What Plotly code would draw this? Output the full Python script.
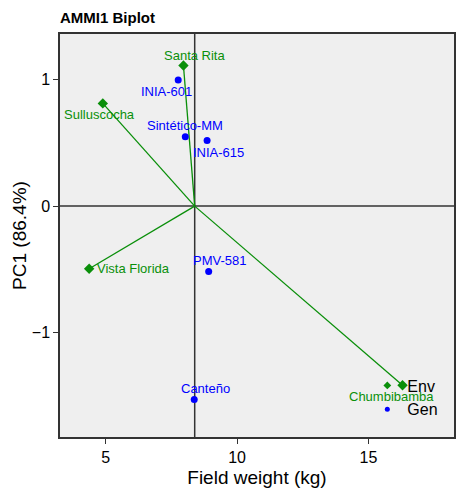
import plotly.graph_objects as go

# Environments: mean field weight (kg) and PC1 score
env_names = ["Santa Rita", "Sulluscocha", "Vista Florida", "Chumbibamba"]
env_yield = [7.96, 4.89, 4.37, 16.30]
env_pc1 = [1.113, 0.813, -0.496, -1.417]

# Genotypes: mean field weight (kg) and PC1 score
gen_names = ["INIA-601", "Sintético-MM", "INIA-615", "PMV-581", "Canteño"]
gen_yield = [7.76, 8.03, 8.86, 8.92, 8.37]
gen_pc1 = [0.998, 0.549, 0.520, -0.517, -1.530]

x_ticks = [5, 10, 15]
y_ticks = [-1, 0, 1]

grand_mean = sum(gen_yield) / len(gen_yield)

GREEN = "#0A8F0A"
BLUE = "#0000FF"
FONT = "Liberation Sans, Arial, sans-serif"

# label offsets in pixels (dx, dy) for each point
env_shift = [(11, -10), (-3, 11), (44, 0), (-11, 11)]
gen_shift = [(-12, 11), (0, -11), (11, 12), (11, -11), (11, -11)]

fig = go.Figure()

# vectors from the origin (grand mean, 0) to each environment
for ex, ey in zip(env_yield, env_pc1):
    fig.add_trace(go.Scatter(
        x=[grand_mean, ex], y=[0, ey], mode="lines",
        line=dict(color=GREEN, width=1.3), showlegend=False, hoverinfo="skip"))

fig.add_trace(go.Scatter(
    x=env_yield, y=env_pc1, mode="markers", name="Env", showlegend=False,
    marker=dict(symbol="diamond", size=8, color=GREEN)))
fig.add_trace(go.Scatter(
    x=gen_yield, y=gen_pc1, mode="markers", name="Gen", showlegend=False,
    marker=dict(symbol="circle", size=7, color=BLUE)))

# legend entries with smaller symbols
fig.add_trace(go.Scatter(
    x=[None], y=[None], mode="markers", name="Env",
    marker=dict(symbol="diamond", size=6, color=GREEN)))
fig.add_trace(go.Scatter(
    x=[None], y=[None], mode="markers", name="Gen",
    marker=dict(symbol="circle", size=5, color=BLUE)))

for name, x, y, (dx, dy) in zip(env_names, env_yield, env_pc1, env_shift):
    fig.add_annotation(x=x, y=y, text=name, showarrow=False, xshift=dx, yshift=-dy,
                       font=dict(color=GREEN, size=13, family=FONT))
for name, x, y, (dx, dy) in zip(gen_names, gen_yield, gen_pc1, gen_shift):
    fig.add_annotation(x=x, y=y, text=name, showarrow=False, xshift=dx, yshift=-dy,
                       font=dict(color=BLUE, size=13, family=FONT))

# reference lines through the origin
fig.add_shape(type="line", xref="paper", x0=0, x1=1, yref="y", y0=0, y1=0,
              line=dict(color="#333333", width=1.5), layer="below")
fig.add_shape(type="line", xref="x", x0=grand_mean, x1=grand_mean, yref="paper", y0=0, y1=1,
              line=dict(color="#333333", width=1.5), layer="below")

fig.update_layout(
    width=457, height=488,
    margin=dict(l=60, r=1, t=34, b=49),
    paper_bgcolor="white", plot_bgcolor="#EFEFEF",
    font=dict(family=FONT, size=16, color="black"),
    title=dict(text="<b>AMMI1 Biplot</b>", x=0, xref="paper", xanchor="left",
               y=1, yref="container", yanchor="top", pad=dict(t=12),
               font=dict(size=15, family=FONT, color="black")),
    legend=dict(x=0.78, y=0.17, xanchor="left", yanchor="top",
                bgcolor="rgba(0,0,0,0)", font=dict(size=16, family=FONT),
                itemsizing="trace"),
    showlegend=True,
)
fig.update_xaxes(range=[3.26, 18.26], tickvals=x_ticks, ticks="outside", ticklen=5,
                 tickwidth=1.3, tickcolor="#333333", showgrid=False, zeroline=False,
                 showline=True, mirror=True, linecolor="#333333", linewidth=1.5,
                 title=dict(text="Field weight (kg)", standoff=8),
                 tickfont=dict(size=16))
fig.update_yaxes(range=[-1.827, 1.362], tickvals=y_ticks, ticktext=["\u22121", "0", "1"],
                 ticks="outside", ticklen=5, tickwidth=1.3, tickcolor="#333333",
                 showgrid=False, zeroline=False, showline=True, mirror=True,
                 linecolor="#333333", linewidth=1.5,
                 title=dict(text="PC1 (86.4%)", standoff=0), tickfont=dict(size=16))

fig.write_html("out.html")
